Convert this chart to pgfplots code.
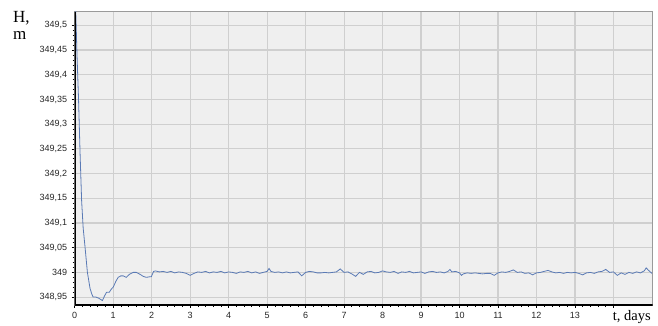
\documentclass[border=0pt]{standalone}
\usepackage{pgfplots}
\pgfplotsset{compat=1.18}
\usepackage{fontspec}
\setmainfont{Liberation Serif}
\newfontfamily\arialf{Liberation Sans}
\definecolor{bgc}{HTML}{EFEFEF}
\definecolor{gridc}{HTML}{CFCFCF}
\definecolor{linec}{HTML}{5A7AB5}
\definecolor{framec}{HTML}{9A9A9A}
\pgfplotstableread{
t v
0.00 349.58
0.03 349.52
0.06 349.44
0.10 349.35
0.14 349.24
0.18 349.145
0.22 349.09
0.27 349.05
0.33 349.00
0.40 348.967
0.45 348.955
0.48 348.950
0.55 348.950
0.62 348.948
0.66 348.946
0.72 348.943
0.78 348.953
0.83 348.960
0.90 348.960
0.95 348.966
1.00 348.970
1.07 348.982
1.13 348.990
1.20 348.993
1.26 348.993
1.34 348.990
1.42 348.996
1.52 349.000
1.60 349.000
1.70 348.996
1.78 348.992
1.86 348.990
1.94 348.991
1.99 348.991
2.05 349.002
2.1 349.003
2.2 349.001
2.3 349.002
2.4 349.000
2.5 349.002
2.6 348.999
2.7 349.001
2.8 349.000
2.9 348.998
3.0 348.994
3.1 348.998
3.2 349.001
3.3 349.000
3.4 349.002
3.5 348.999
3.6 349.001
3.7 349.000
3.8 349.002
3.9 348.999
4.0 349.001
4.1 349.000
4.2 348.998
4.3 349.001
4.4 349.000
4.5 349.002
4.6 348.999
4.7 349.001
4.8 348.998
4.9 349.000
5.0 349.002
5.05 349.008
5.1 349.002
5.2 349.000
5.3 349.001
5.4 348.999
5.5 349.001
5.6 348.999
5.7 349.000
5.8 349.001
5.9 348.993
6.0 349.000
6.1 349.002
6.2 349.001
6.3 348.999
6.4 348.999
6.5 349.000
6.6 348.999
6.7 349.000
6.8 349.001
6.9 349.007
7.0 349.000
7.1 349.001
7.2 348.997
7.3 348.992
7.4 349.000
7.5 348.996
7.6 349.001
7.7 349.002
7.8 348.999
7.9 349.000
8.0 349.003
8.1 349.001
8.2 349.000
8.3 349.002
8.4 348.998
8.5 349.001
8.6 349.000
8.7 349.002
8.8 348.999
8.9 349.000
9.0 349.001
9.1 348.998
9.2 349.001
9.3 349.002
9.4 349.000
9.5 349.001
9.6 348.999
9.7 349.002
9.75 349.006
9.8 349.001
9.9 349.002
10.0 348.999
10.05 348.994
10.1 348.997
10.2 348.999
10.3 348.998
10.4 348.999
10.5 348.998
10.6 348.997
10.7 348.998
10.8 348.998
10.9 348.994
11.0 348.999
11.1 349.001
11.2 349.000
11.3 349.002
11.4 349.005
11.5 349.000
11.6 349.001
11.7 348.998
11.8 348.999
11.9 348.995
12.0 348.999
12.1 349.000
12.2 349.002
12.3 349.004
12.4 349.001
12.5 348.999
12.6 349.000
12.7 348.998
12.8 349.000
12.9 348.999
13.0 349.000
13.1 348.998
13.2 348.995
13.3 348.999
13.4 349.000
13.5 348.998
13.6 349.001
13.7 349.002
13.8 349.006
13.9 349.000
14.0 349.001
14.1 348.994
14.2 348.999
14.3 348.996
14.4 349.000
14.5 348.998
14.6 349.001
14.7 348.999
14.8 349.003
14.85 349.009
14.9 349.005
15.0 348.998
}\datatable
\begin{document}
\begin{tikzpicture}
\useasboundingbox (0,0) rectangle (658pt,325pt);
\begin{axis}[
  at={(74.7pt,20pt)}, anchor=south west,
  scale only axis, width=578pt, height=293pt,
  xmin=0, xmax=15.02, ymin=348.934, ymax=349.527,
  axis background/.style={fill=bgc},
  axis line style={draw=framec, line width=1pt},
  grid=major, major grid style={draw=gridc, line width=1.1pt},
  xtick={0,1,...,14},
  xticklabels={0,1,2,3,4,5,6,7,8,9,10,11,12,13,{}},
  ytick={348.95,349,349.05,349.1,349.15,349.2,349.25,349.3,349.35,349.4,349.45,349.5},
  minor x tick num=4, minor y tick num=4,
  tick align=outside, tick pos=left,
  major tick length=3pt, minor tick length=2pt,
  tick style={black, line width=0.6pt},
  ticklabel style={font=\arialf\fontsize{9}{10}\selectfont, text=black!85},
  /pgf/number format/assume math mode=true,
  yticklabel style={/pgf/number format/fixed, /pgf/number format/precision=2, /pgf/number format/use comma, /pgf/number format/1000 sep={}, xshift=-1pt},
  xticklabel style={yshift=-1pt},
  clip=true,
]
\addplot[linec, line width=0.8pt] table[x=t,y=v] {\datatable};
\draw[black, line width=1.6pt] (rel axis cs:0,1) -- (rel axis cs:0,0) -- (rel axis cs:1,0);
\end{axis}
\node[anchor=north west, align=left, font=\fontsize{17}{17}\selectfont, inner sep=0pt] at (13pt,314pt) {H,\\m};
\node[anchor=base east, font=\fontsize{14.5}{16}\selectfont, inner sep=0pt] at (651pt,5pt) {t, days};
\end{tikzpicture}
\end{document}
